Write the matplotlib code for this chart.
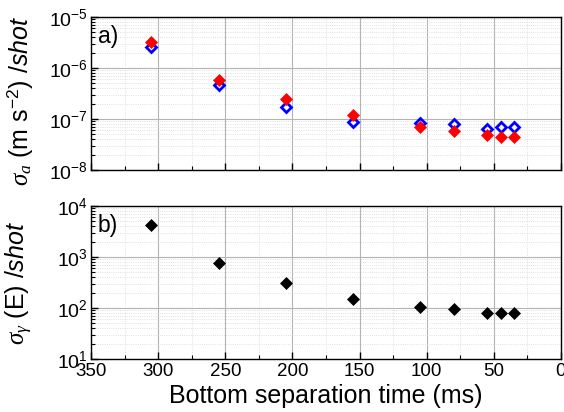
import matplotlib
matplotlib.use("Agg")
import matplotlib.pyplot as plt
from matplotlib.ticker import LogLocator, MultipleLocator, NullFormatter

plt.rcParams['font.family'] = ['Liberation Sans', 'DejaVu Sans']
plt.rcParams['mathtext.fontset'] = 'custom'
plt.rcParams['mathtext.rm'] = 'Liberation Sans'
plt.rcParams['mathtext.it'] = 'Liberation Serif:italic'
plt.rcParams['mathtext.sf'] = 'Liberation Sans:italic'

# Data
sep_time = [305, 255, 205, 155, 105, 80, 55, 45, 35]
sigma_a_blue = [2.6e-6, 4.7e-7, 1.72e-7, 8.9e-8, 8.3e-8, 7.9e-8, 6.4e-8, 7.0e-8, 6.9e-8]
sigma_a_red = [3.2e-6, 5.9e-7, 2.45e-7, 1.2e-7, 7.0e-8, 5.7e-8, 4.9e-8, 4.5e-8, 4.5e-8]
sigma_g = [4240, 776, 305, 148, 107, 97, 79, 79, 79]

fig = plt.figure(figsize=(5.64, 4.12), dpi=100)
ax1 = fig.add_axes([0.1613, 0.5874, 0.8333, 0.3713])
ax2 = fig.add_axes([0.1613, 0.1286, 0.8333, 0.3714])

ax1.plot(sep_time, sigma_a_blue, linestyle='none', marker='D', ms=5.6,
         mfc='none', mec='#0000ff', mew=2.0, zorder=3, clip_on=False)
ax1.plot(sep_time, sigma_a_red, linestyle='none', marker='D', ms=6.3,
         mfc='#ff0000', mec='#ff0000', mew=0.5, zorder=4, clip_on=False)
ax2.plot(sep_time, sigma_g, linestyle='none', marker='D', ms=6.3,
         mfc='black', mec='black', mew=0.5, zorder=3, clip_on=False)

for ax, ylim in ((ax1, (1e-8, 1e-5)), (ax2, (10, 1e4))):
    ax.set_yscale('log')
    ax.set_ylim(*ylim)
    ax.set_xlim(350, 0)
    ax.xaxis.set_major_locator(MultipleLocator(50))
    ax.xaxis.set_minor_locator(MultipleLocator(25))
    ax.yaxis.set_major_locator(LogLocator(base=10, numticks=10))
    ax.yaxis.set_minor_locator(LogLocator(base=10, subs=range(2, 10), numticks=20))
    ax.yaxis.set_minor_formatter(NullFormatter())
    ax.grid(True, which='major', color='#b4b4b4', linewidth=0.8, linestyle='-')
    ax.grid(True, which='minor', color='#d6d6d6', linewidth=0.6, linestyle=':')
    ax.set_axisbelow(True)
    ax.tick_params(axis='both', which='major', direction='in', length=5, width=1,
                   top=False, right=False)
    ax.tick_params(axis='y', which='major', labelsize=14, pad=2)
    ax.tick_params(axis='x', which='major', labelsize=13.5, pad=3)
    ax.tick_params(axis='both', which='minor', direction='in', length=3, width=0.8,
                   top=False, right=False)
    for sp in ax.spines.values():
        sp.set_color('black')
        sp.set_linewidth(1.0)

ax1.tick_params(axis='x', labelbottom=False)

ax1.text(0.015, 0.87, 'a)', transform=ax1.transAxes, fontsize=16.5, va='center', ha='left')
ax2.text(0.015, 0.87, 'b)', transform=ax2.transAxes, fontsize=16.5, va='center', ha='left')

ax1.set_ylabel(r'$\sigma_a$ (m s$^{-2}$) /$\mathsf{shot}$', fontsize=18)
ax1.yaxis.set_label_coords(-0.12, 0.45)
ax2.set_ylabel(r'$\sigma_\gamma$ (E) /$\mathsf{shot}$', fontsize=18)
ax2.yaxis.set_label_coords(-0.12, 0.5)

ax2.set_xlabel('Bottom separation time (ms)', fontsize=18, labelpad=2.5)

fig.savefig('out.png', dpi=100)
